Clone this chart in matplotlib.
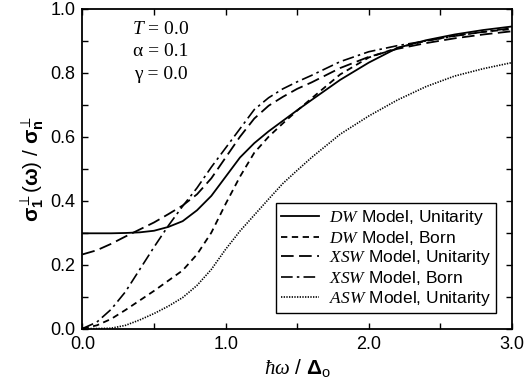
import matplotlib
matplotlib.use("Agg")
import matplotlib.pyplot as plt
from matplotlib.ticker import MultipleLocator

plt.rcParams['font.family'] = ['Liberation Sans', 'DejaVu Sans']
plt.rcParams['mathtext.fontset'] = 'custom'
plt.rcParams['mathtext.rm'] = 'Liberation Sans'
plt.rcParams['mathtext.it'] = 'Liberation Serif:italic'
plt.rcParams['mathtext.bf'] = 'Liberation Sans:bold'

# energia reducida hbar*omega / Delta_0
omega = [0.0, 0.1, 0.2, 0.3, 0.4, 0.5, 0.6, 0.7, 0.8, 0.9, 1.0, 1.1, 1.2,
         1.3, 1.4, 1.5, 1.6, 1.8, 2.0, 2.2, 2.4, 2.6, 2.8, 3.0]

dw_unitarity = [0.298, 0.298, 0.298, 0.299, 0.301, 0.306, 0.318, 0.336, 0.37,
                0.415, 0.475, 0.535, 0.58, 0.617, 0.65, 0.683, 0.715, 0.778,
                0.832, 0.878, 0.902, 0.92, 0.934, 0.945]
dw_born = [0.0, 0.01, 0.03, 0.058, 0.088, 0.118, 0.15, 0.182, 0.232, 0.3, 0.39,
           0.475, 0.55, 0.6, 0.642, 0.682, 0.72, 0.795, 0.848, 0.878, 0.9,
           0.916, 0.928, 0.937]
xsw_unitarity = [0.232, 0.245, 0.265, 0.288, 0.31, 0.332, 0.358, 0.385, 0.42,
                 0.47, 0.535, 0.6, 0.657, 0.697, 0.725, 0.75, 0.77, 0.815, 0.85,
                 0.875, 0.893, 0.908, 0.92, 0.93]
xsw_born = [0.0, 0.02, 0.06, 0.115, 0.185, 0.255, 0.322, 0.383, 0.44, 0.505,
            0.565, 0.625, 0.685, 0.722, 0.75, 0.772, 0.792, 0.835, 0.866, 0.885,
            0.9, 0.915, 0.928, 0.94]
asw_unitarity = [0.0, 0.0, 0.001, 0.01, 0.027, 0.047, 0.07, 0.097, 0.135,
                 0.185, 0.248, 0.305, 0.355, 0.405, 0.454, 0.495, 0.535, 0.608,
                 0.665, 0.715, 0.757, 0.79, 0.813, 0.832]

etiquetas = [r'$DW$ Model, Unitarity', r'$DW$ Model, Born',
             r'$XSW$ Model, Unitarity', r'$XSW$ Model, Born',
             r'$ASW$ Model, Unitarity']

fig = plt.figure(figsize=(5.24, 3.87), dpi=100)
ax = fig.add_axes([0.1574, 0.151, 0.8196, 0.826])

ax.plot(omega, dw_unitarity, color='black', lw=1.3, ls='-', label=etiquetas[0])
ax.plot(omega, dw_born, color='black', lw=1.3, ls=(0, (3.5, 2.5)), label=etiquetas[1])
ax.plot(omega, xsw_unitarity, color='black', lw=1.3, ls=(0, (7, 3)), label=etiquetas[2])
ax.plot(omega, xsw_born, color='black', lw=1.2, ls=(0, (7, 2.5, 1.5, 2.5)), label=etiquetas[3])
ax.plot(omega, asw_unitarity, color='black', lw=1.2, ls=(0, (0.8, 0.8)), label=etiquetas[4])

ax.set_xlim(0, 3)
ax.set_ylim(0, 1)
ax.xaxis.set_major_locator(MultipleLocator(1.0))
ax.xaxis.set_minor_locator(MultipleLocator(0.5))
ax.yaxis.set_major_locator(MultipleLocator(0.2))
ax.yaxis.set_minor_locator(MultipleLocator(0.1))
ax.xaxis.set_major_formatter(lambda v, p: f'{v:.1f}')
ax.yaxis.set_major_formatter(lambda v, p: f'{v:.1f}')
ax.tick_params(which='both', direction='in', top=True, right=True,
               labelsize=13, width=1.0)
ax.tick_params(which='major', length=4.5, pad=5)
ax.tick_params(which='minor', length=4)
for s in ax.spines.values():
    s.set_linewidth(1.3)

ax.set_xlabel(r'$\hbar\omega$ / $\mathbf{\Delta}_\mathrm{o}$', fontsize=15, labelpad=3)
ax.set_ylabel(r'$\mathbf{\sigma}_\mathbf{1}^{\perp}(\mathbf{\omega})$ / $\mathbf{\sigma}_\mathbf{n}^{\perp}$',
              fontsize=15, labelpad=3)

ax.text(0.183, 0.922, r'$T$' + ' = 0.0', transform=ax.transAxes, ha='center',
        fontsize=14, family='Liberation Serif')
ax.text(0.183, 0.852, 'α = 0.1', transform=ax.transAxes, ha='center',
        fontsize=14, family='Liberation Serif')
ax.text(0.183, 0.782, 'γ = 0.0', transform=ax.transAxes, ha='center',
        fontsize=14, family='Liberation Serif')

leg = ax.legend(loc='lower right', bbox_to_anchor=(0.963, 0.0485), borderaxespad=0,
                fontsize=12.5, handlelength=2.2, labelspacing=0.1,
                handletextpad=0.55, borderpad=0.3, fancybox=False, framealpha=1)
leg.get_frame().set_edgecolor('black')
leg.get_frame().set_linewidth(1.0)

fig.savefig('out.png', dpi=100)
